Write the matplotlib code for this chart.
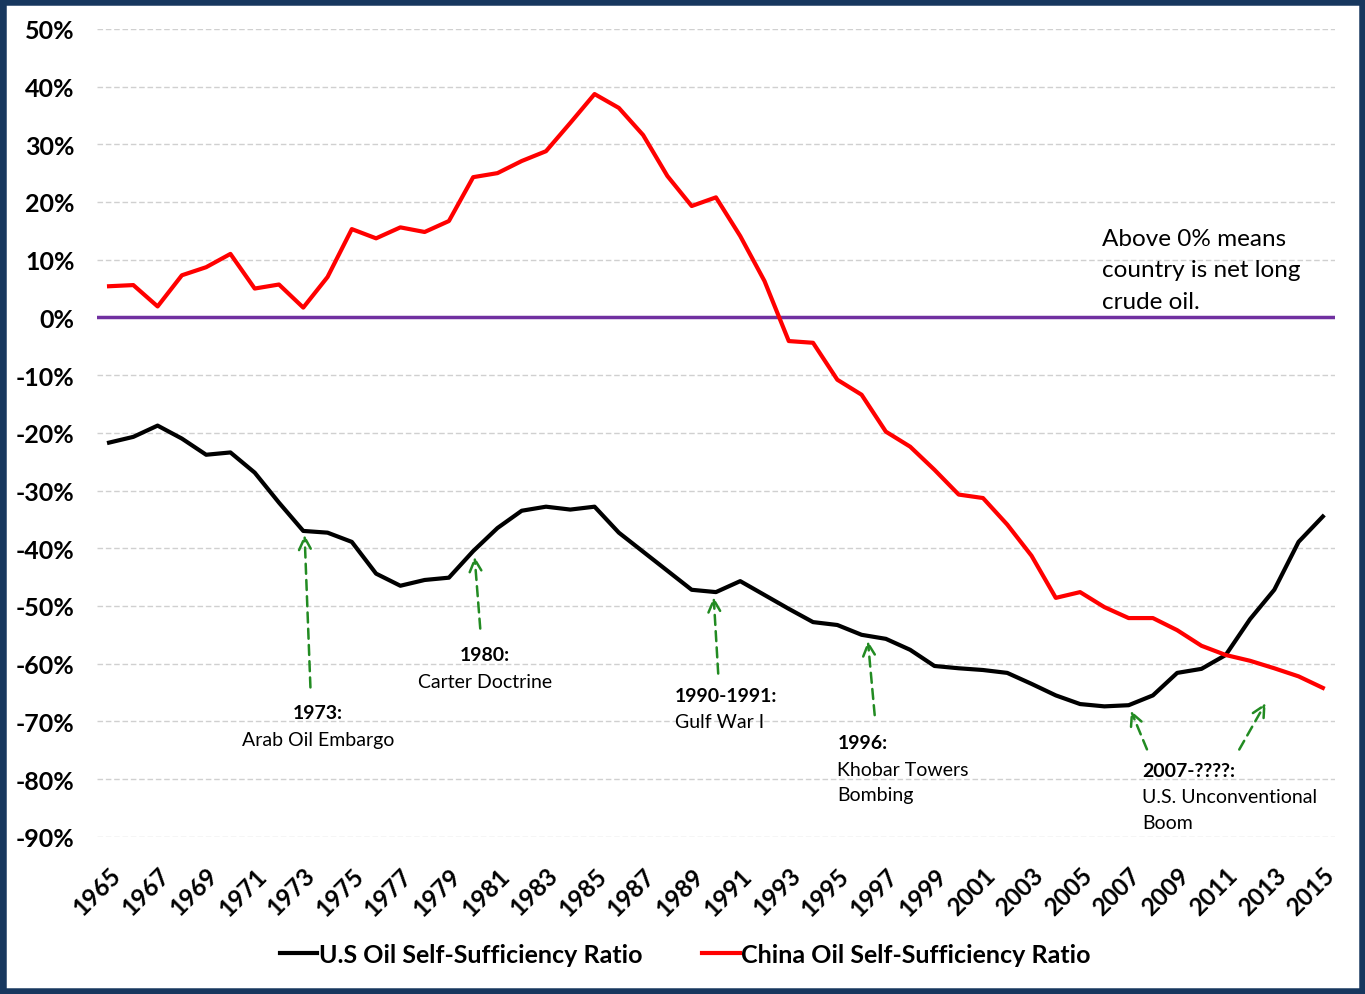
import matplotlib
matplotlib.use("Agg")
import matplotlib.pyplot as plt
from matplotlib.patches import Rectangle
from matplotlib.ticker import FuncFormatter

years = list(range(1965, 2016))
us_ratio = [-21.7, -20.7, -18.75, -21.0, -23.8, -23.4, -26.9, -32.1, -37.0, -37.3,
            -38.9, -44.4, -46.5, -45.5, -45.1, -40.5, -36.5, -33.5, -32.8, -33.3,
            -32.8, -37.3, -40.6, -43.9, -47.2, -47.6, -45.7, -48.1, -50.5, -52.8,
            -53.3, -55.0, -55.7, -57.6, -60.4, -60.8, -61.1, -61.6, -63.5, -65.5,
            -67.0, -67.4, -67.2, -65.5, -61.6, -60.9, -58.5, -52.3, -47.2, -38.9,
            -34.5]
china_ratio = [5.4, 5.6, 1.9, 7.3, 8.7, 11.0, 5.0, 5.7, 1.7, 7.0,
               15.3, 13.7, 15.6, 14.8, 16.7, 24.3, 25.0, 27.1, 28.8, 33.7,
               38.7, 36.3, 31.6, 24.5, 19.3, 20.8, 14.1, 6.3, -4.1, -4.4,
               -10.8, -13.4, -19.8, -22.4, -26.4, -30.7, -31.3, -35.9, -41.3, -48.6,
               -47.6, -50.2, -52.1, -52.1, -54.2, -56.9, -58.5, -59.5, -60.8, -62.2,
               -64.2]
tick_years = list(range(1965, 2016, 2))

# events: (arrow tail, arrow head, text anchor, align, title, body)
events = [
    ((1973.3, -64.6), (1973.05, -37.2), (1973.6, -67.0), "center", "1973:", "Arab Oil Embargo"),
    ((1980.3, -54.4), (1980.05, -41.0), (1980.5, -57.0), "center", "1980:", "Carter Doctrine"),
    ((1990.1, -62.2), (1989.9, -48.0), (1988.3, -64.0), "left", "1990-1991:", "Gulf War I"),
    ((1996.55, -69.4), (1996.25, -55.6), (1995.0, -72.2), "left", "1996:", "Khobar Towers\nBombing"),
]

plt.rcParams["font.family"] = ["Lato", "DejaVu Sans"]

fig = plt.figure(figsize=(13.65, 9.95), dpi=100)
ax = fig.add_axes([0.071, 0.158, 0.907, 0.812])

ax.plot(years, us_ratio, color="black", lw=3, label="U.S Oil Self-Sufficiency Ratio", zorder=3)
ax.plot(years, china_ratio, color="#ff0000", lw=3, label="China Oil Self-Sufficiency Ratio", zorder=3)
ax.axhline(0, color="#7030a0", lw=2.5, zorder=2)

ax.set_xlim(1964.5, 2015.5)
ax.set_ylim(-90, 50)
ax.set_yticks(range(-90, 51, 10))
ax.yaxis.set_major_formatter(FuncFormatter(lambda v, p: f"{v:.0f}%"))
ax.set_xticks(tick_years)
ax.set_xticklabels([str(y) for y in tick_years], rotation=45, ha="right",
                   rotation_mode="anchor", fontsize=17.5, fontweight="bold")
for lab in ax.get_yticklabels():
    lab.set_fontsize(18)
    lab.set_fontweight("bold")
ax.tick_params(length=0)
ax.tick_params(axis="y", pad=16)
ax.tick_params(axis="x", pad=19)
ax.grid(axis="y", color="#d0d0d0", ls=(0, (4, 2)), lw=1)
for s in ax.spines.values():
    s.set_visible(False)

green = "#228b22"
arrow = dict(arrowstyle="->", color=green, lw=1.8, ls=(0, (4, 2.5)), mutation_scale=22)
for tail, head, pos, ha, title, body in events:
    ax.annotate("", xy=head, xytext=tail, arrowprops=arrow)
    ax.text(pos[0], pos[1], title, ha=ha, va="top", fontsize=14, fontweight="bold")
    ax.text(pos[0], pos[1] - 4.6, body, ha=ha, va="top", fontsize=14, linespacing=1.6)

ax.annotate("", xy=(2007.05, -67.7), xytext=(2007.8, -75.3), arrowprops=arrow)
ax.annotate("", xy=(2012.7, -66.4), xytext=(2011.5, -75.3), arrowprops=arrow)
ax.text(2007.55, -77.0, "2007-????:", ha="left", va="top", fontsize=14, fontweight="bold")
ax.text(2007.55, -81.6, "U.S. Unconventional\nBoom", ha="left", va="top", fontsize=14, linespacing=1.6)

ax.text(2005.9, 15.5, "Above 0% means\ncountry is net long\ncrude oil.", ha="left", va="top",
        fontsize=17.5, linespacing=1.62)

leg = fig.legend(loc="center", bbox_to_anchor=(0.502, 0.04), ncol=2, frameon=False,
                 handlelength=1.5, handletextpad=0.05, columnspacing=2.4,
                 prop={"size": 18, "weight": "bold"})

fig.patches.append(Rectangle((0, 0), 1, 1, transform=fig.transFigure, fill=False,
                             edgecolor="#17375e", lw=9, zorder=10))

fig.savefig("out.png", dpi=100)
